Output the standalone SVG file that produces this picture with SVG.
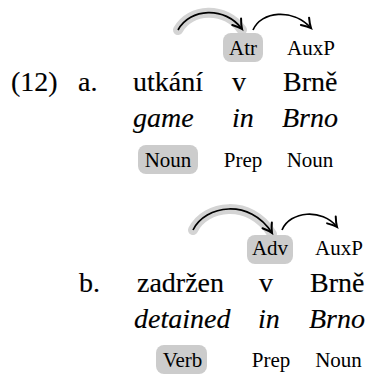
<svg xmlns="http://www.w3.org/2000/svg" width="369" height="382" viewBox="0 0 369 382">
  <style>
    .w { font-family: "Liberation Serif", "Times New Roman", serif; font-size: 28px; fill: #000; stroke: #000; stroke-width: 0.15px; }
    .gl { font-family: "Liberation Serif", "Times New Roman", serif; font-size: 28px; font-style: italic; fill: #000; stroke: #000; stroke-width: 0.15px; }
    .tag { font-family: "Liberation Serif", "Times New Roman", serif; font-size: 21px; text-anchor: middle; fill: #000; }
    .hl { fill: #cccccc; }
    .halo { fill: none; stroke: #d4d4d4; stroke-width: 10; stroke-linecap: round; }
    .arc { fill: none; stroke: #000; stroke-width: 1.7; marker-end: url(#tip); }
  </style>
  <defs>
    <marker id="tip" markerUnits="userSpaceOnUse" markerWidth="16" markerHeight="16" viewBox="-11 -8 13 16" refX="0" refY="0" orient="auto">
      <path d="M -9 -5.5 Q -3.5 -1.4 0 0 Q -3.5 1.4 -9 5.5" fill="none" stroke="#000" stroke-width="2" stroke-linecap="round"/>
    </marker>
  </defs>

  <!-- example numbering -->
  <g id="num">
    <text class="w" x="11" y="91">(12)</text>
    <text class="w" x="78" y="91">a.</text>
    <text class="w" x="79" y="292">b.</text>
  </g>

  <!-- connectors (drawn first so highlight boxes sit over the halos) -->
  <g id="connectors">
    <path class="halo" d="M178,30 C190,8 225,6 242,30"/>
    <path class="halo" d="M193,230 C205,205 250,198 272,234"/>
    <path class="arc" d="M178,30 C190,8 225,6 242,29"/>
    <path class="arc" d="M253,30 C261,11 293,8 311,28"/>
    <path class="arc" d="M193,230 C205,205 250,198 272,233"/>
    <path class="arc" d="M282,230 C290,211 322,208 337,227"/>
  </g>

  <!-- example a -->
  <g id="a-col1">
    <text class="w" x="133" y="91">utkání</text>
    <text class="gl" x="133" y="127">game</text>
    <rect class="hl" x="138" y="145" width="60" height="29" rx="8"/>
    <text class="tag" x="168" y="167">Noun</text>
  </g>
  <g id="a-col2">
    <rect class="hl" x="223" y="33" width="40" height="29" rx="8"/>
    <text class="tag" x="243" y="55">Atr</text>
    <text class="w" x="232" y="91">v</text>
    <text class="gl" x="232" y="127">in</text>
    <text class="tag" x="243" y="167">Prep</text>
  </g>
  <g id="a-col3">
    <text class="tag" x="311" y="55">AuxP</text>
    <text class="w" x="283" y="91">Brně</text>
    <text class="gl" x="282" y="127">Brno</text>
    <text class="tag" x="310" y="167">Noun</text>
  </g>

  <!-- example b -->
  <g id="b-col1">
    <text class="w" x="137" y="292">zadržen</text>
    <text class="gl" x="134" y="328">detained</text>
    <rect class="hl" x="156" y="345" width="51" height="29" rx="8"/>
    <text class="tag" x="182.5" y="367">Verb</text>
  </g>
  <g id="b-col2">
    <rect class="hl" x="247" y="235" width="46" height="29" rx="8"/>
    <text class="tag" x="270" y="255">Adv</text>
    <text class="w" x="259" y="292">v</text>
    <text class="gl" x="258" y="328">in</text>
    <text class="tag" x="271" y="367">Prep</text>
  </g>
  <g id="b-col3">
    <text class="tag" x="339" y="255">AuxP</text>
    <text class="w" x="310" y="292">Brně</text>
    <text class="gl" x="309" y="328">Brno</text>
    <text class="tag" x="338.5" y="367">Noun</text>
  </g>
</svg>
